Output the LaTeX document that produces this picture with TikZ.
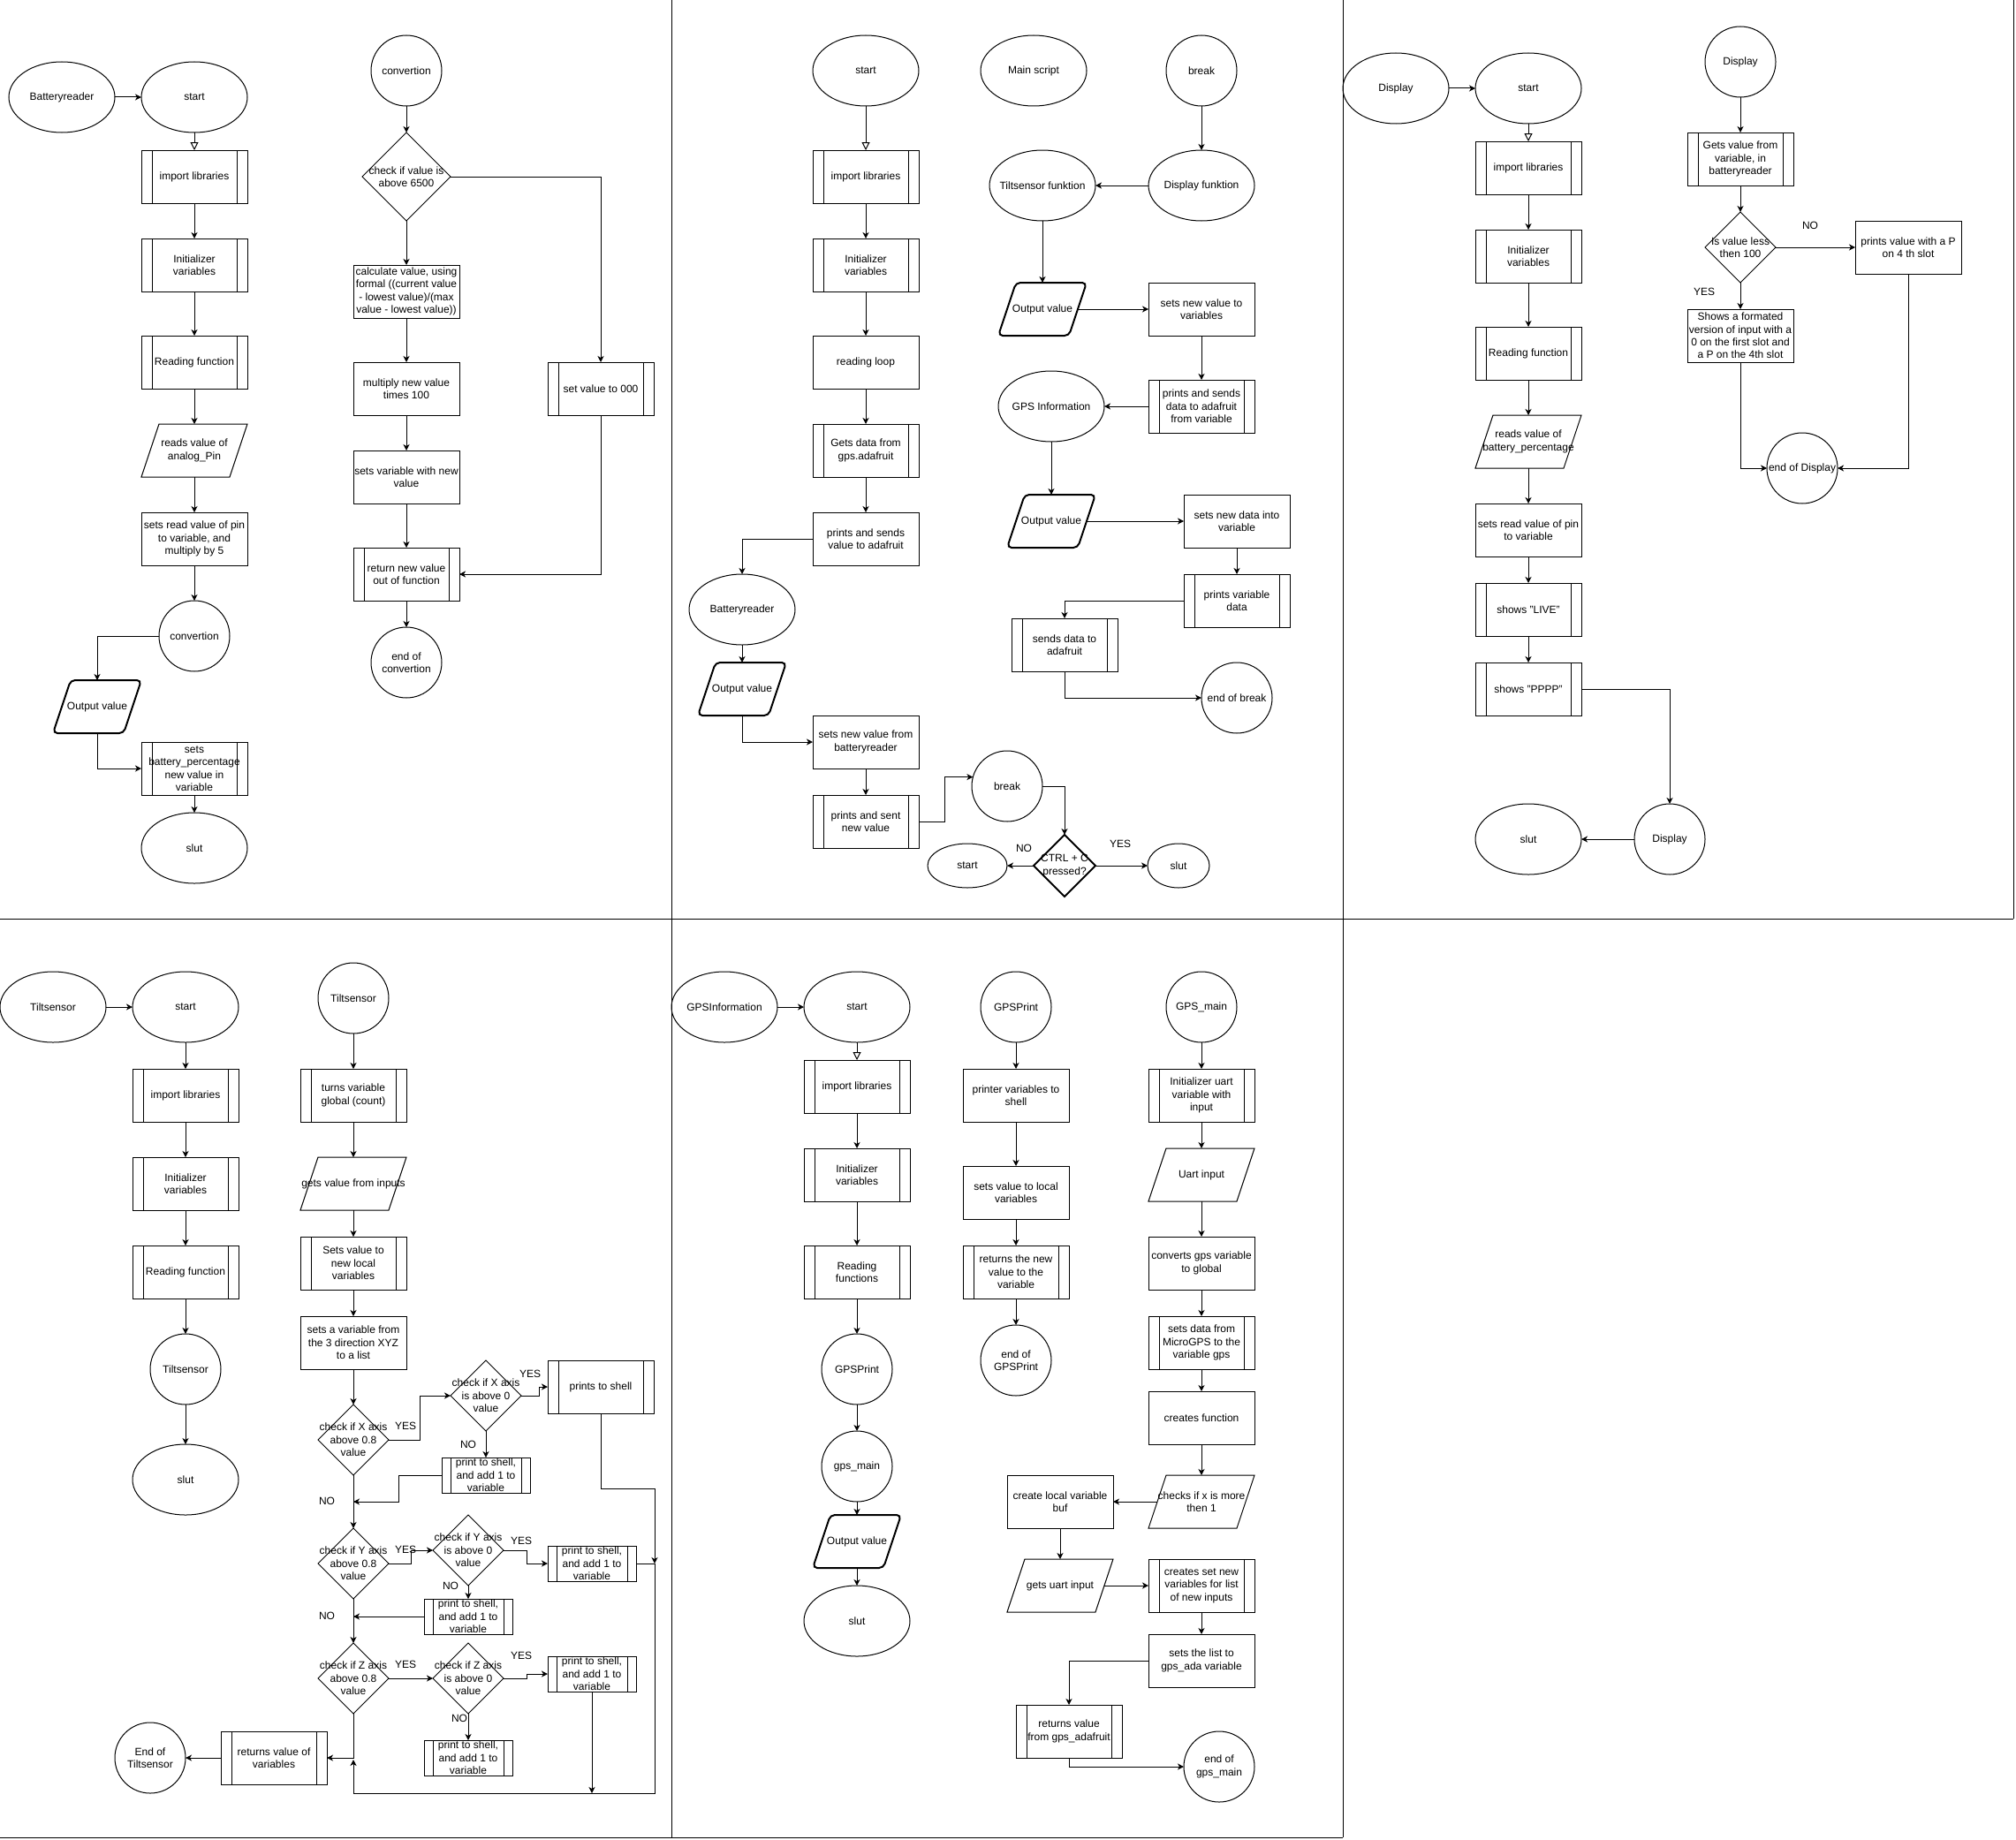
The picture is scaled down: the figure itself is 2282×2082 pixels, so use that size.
\documentclass[tikz,border=0pt]{standalone}
\usepackage{fontspec}
\setmainfont{Liberation Sans}
\usetikzlibrary{shapes.geometric,arrows.meta,calc}
\tikzset{
  base/.style={draw, line width=1pt, inner sep=0pt, outer sep=0pt},
  lbl/.style={font=\fontsize{12}{14.4}\selectfont, align=center, inner sep=0pt, outer sep=0pt},
  txt/.style={label={[lbl]center:{#1}}},
  rbox/.style={base, rectangle, minimum width=120pt, minimum height=60pt},
  pbox/.style={rbox, path picture={\draw[line width=1pt]
     ([xshift=12pt]path picture bounding box.north west) -- ([xshift=12pt]path picture bounding box.south west)
     ([xshift=-12pt]path picture bounding box.north east) -- ([xshift=-12pt]path picture bounding box.south east);}},
  sbox/.style={base, rectangle, minimum width=100pt, minimum height=40pt, path picture={\draw[line width=1pt]
     ([xshift=10pt]path picture bounding box.north west) -- ([xshift=10pt]path picture bounding box.south west)
     ([xshift=-10pt]path picture bounding box.north east) -- ([xshift=-10pt]path picture bounding box.south east);}},
  ell/.style={base, ellipse, minimum width=120pt, minimum height=80pt},
  circ/.style={base, circle, minimum size=80pt},
  dia/.style={base, diamond, minimum width=80pt, minimum height=80pt},
  arr/.style={line width=1pt, -{Stealth[length=7pt,width=7pt,inset=2pt]}},
  harr/.style={line width=1pt, -{Triangle[open,length=9pt,width=9pt]}},
  ln/.style={line width=1pt},
  thk/.style={line width=2pt, rounded corners=5pt},
}
\newcommand\paral[5]{%
  \node[base, draw=none, rectangle, minimum width=#3pt, minimum height=60pt, txt={#5}] (#1) at (#2) {};
  \draw[line width=1pt, #4] ([xshift=20pt]#1.north west) -- (#1.north east) -- ([xshift=-20pt]#1.south east) -- (#1.south west) -- cycle;}
\begin{document}
\begin{tikzpicture}[x=1pt,y=-1pt]
\useasboundingbox[fill=white] (0,0) rectangle (2282,2082);
% panel lines
\draw[ln] (0,1040) -- (2279,1040);
\draw[ln] (760,0) -- (760,2080);
\draw[ln] (1520,0) -- (1520,2080);
\draw[ln] (2279,0) -- (2279,1040);
\draw[ln] (0,2080) -- (1520,2080);

% ================= Panel 1 =================
\node[ell, txt=Batteryreader] (br1) at (70,110) {};
\node[ell, txt=start] (st1) at (220,110) {};
\node[pbox, txt=import libraries] (imp1) at (220,200) {};
\node[pbox, txt={Initializer\\variables}] (ini1) at (220,300) {};
\node[pbox, txt=Reading function] (rd1) at (220,410) {};
\paral{par1}{220,510}{120}{}{reads value of\\analog\_Pin}
\node[rbox, txt={sets read value of pin\\to variable, and\\multiply by 5}] (set1) at (220,610) {};
\node[circ, txt=convertion] (conv1) at (220,720) {};
\paral{out1}{110,800}{100}{thk}{Output value}
\node[pbox, txt={sets\\battery\_percentage\\new value in\\variable}] (bat1) at (220,870) {};
\node[ell, txt=slut] (slut1) at (220,960) {};

\node[circ, txt=convertion] (conv2) at (460,80) {};
\node[dia, minimum width=100pt, minimum height=100pt, txt={check if value is\\above 6500}] (dia1) at (460,200) {};
\node[rbox, txt={calculate value, using\\formal ((current value\\- lowest value)/(max\\value - lowest value))}] (calc) at (460,330) {};
\node[rbox, txt={multiply new value\\times 100}] (mult) at (460,440) {};
\node[rbox, txt={sets variable with new\\value}] (setv) at (460,540) {};
\node[pbox, txt={return new value\\out of function}] (ret1) at (460,650) {};
\node[circ, txt={end of\\convertion}] (endc) at (460,750) {};
\node[pbox, txt=set value to 000] (set0) at (680,440) {};

\draw[arr] (br1) -- (st1);
\draw[harr] (st1) -- (imp1);
\draw[arr] (imp1) -- (ini1);
\draw[arr] (ini1) -- (rd1);
\draw[arr] (rd1) -- (par1);
\draw[arr] (par1) -- (set1);
\draw[arr] (set1) -- (conv1);
\draw[arr] (conv1.west) -| (out1.north);
\draw[arr] (out1.south) |- (bat1.west);
\draw[arr] (bat1) -- (slut1);
\draw[arr] (conv2) -- (dia1);
\draw[arr] (dia1.east) -| (set0.north);
\draw[arr] (dia1) -- (calc);
\draw[arr] (calc) -- (mult);
\draw[arr] (mult) -- (setv);
\draw[arr] (setv) -- (ret1);
\draw[arr] (set0.south) |- (ret1.east);
\draw[arr] (ret1) -- (endc);

% ================= Panel 2 =================
\node[ell, txt=start] (st2) at (980,80) {};
\node[ell, txt=Main script] (ms) at (1170,80) {};
\node[circ, txt=break] (brk1) at (1360,80) {};
\node[pbox, txt=import libraries] (imp2) at (980,200) {};
\node[pbox, txt={Initializer\\variables}] (ini2) at (980,300) {};
\node[rbox, txt=reading loop] (loop2) at (980,410) {};
\node[pbox, txt={Gets data from\\gps.adafruit}] (gd2) at (980,510) {};
\node[rbox, txt={prints and sends\\value to adafruit}] (pas2) at (980,610) {};
\node[ell, txt=Batteryreader] (br2) at (840,690) {};
\paral{out2}{840,780}{100}{thk}{Output value}
\node[rbox, txt={sets new value from\\batteryreader}] (snv) at (980,840) {};
\node[pbox, txt={prints and sent\\new value}] (psn) at (980,930) {};
\node[circ, txt=break] (brk2) at (1140,890) {};
\node[dia, minimum width=70pt, minimum height=70pt, line width=2pt, txt={CTRL + C\\pressed?}] (ctrl) at (1205,980) {};
\node[ell, minimum width=90pt, minimum height=50pt, txt=start] (st2b) at (1095,980) {};
\node[ell, minimum width=70pt, minimum height=50pt, txt=slut] (slut2) at (1334,980) {};
\node[lbl] (no2) at (1159,960) {NO};
\node[lbl] (yes2) at (1268,955) {YES};

\node[ell, txt=Display funktion] (dispf) at (1360,210) {};
\node[ell, txt=Tiltsensor funktion] (tiltf) at (1180,210) {};
\paral{out3}{1180,350}{100}{thk}{Output value}
\node[rbox, txt={sets new value to\\variables}] (snv2) at (1360,350) {};
\node[pbox, txt={prints and sends\\data to adafruit\\from variable}] (pasd) at (1360,460) {};
\node[ell, txt=GPS Information] (gpsi) at (1190,460) {};
\paral{out4}{1190,590}{100}{thk}{Output value}
\node[rbox, txt={sets new data into\\variable}] (sndi) at (1400,590) {};
\node[pbox, txt={prints variable\\data}] (pvd) at (1400,680) {};
\node[pbox, txt={sends data to\\adafruit}] (sda) at (1205,730) {};
\node[circ, txt=end of break] (eob) at (1400,790) {};

\draw[harr] (st2) -- (imp2);
\draw[arr] (imp2) -- (ini2);
\draw[arr] (ini2) -- (loop2);
\draw[arr] (loop2) -- (gd2);
\draw[arr] (gd2) -- (pas2);
\draw[arr] (pas2.west) -| (br2.north);
\draw[arr] (br2) -- (out2);
\draw[arr] (out2.south) |- (snv.west);
\draw[arr] (snv) -- (psn);
\draw[arr] (psn.east) -- ++(29,0) |- (brk2.165.5);
\draw[arr] (brk2.east) -| (ctrl.north);
\draw[arr] (ctrl.west) -- (st2b.east);
\draw[arr] (ctrl.east) -- (slut2.west);
\draw[arr] (brk1) -- (dispf);
\draw[arr] (dispf) -- (tiltf);
\draw[arr] (tiltf) -- (out3);
\draw[arr] ([xshift=-10pt]out3.east) -- (snv2.west);
\draw[arr] (snv2) -- (pasd);
\draw[arr] (pasd) -- (gpsi);
\draw[arr] (gpsi) -- (out4);
\draw[arr] ([xshift=-10pt]out4.east) -- (sndi.west);
\draw[arr] (sndi) -- (pvd);
\draw[arr] (pvd.west) -| (sda.north);
\draw[arr] (sda.south) |- (eob.west);

% ================= Panel 3 =================
\node[ell, txt=Display] (disp1) at (1580,100) {};
\node[ell, txt=start] (st3) at (1730,100) {};
\node[pbox, txt=import libraries] (imp3) at (1730,190) {};
\node[pbox, txt={Initializer\\variables}] (ini3) at (1730,290) {};
\node[pbox, txt=Reading function] (rd3) at (1730,400) {};
\paral{par3}{1730,500}{120}{}{reads value of\\battery\_percentage}
\node[rbox, txt={sets read value of pin\\to variable}] (srv3) at (1730,600) {};
\node[pbox, txt={shows "LIVE"}] (live) at (1730,690) {};
\node[pbox, txt={shows "PPPP"}] (pppp) at (1730,780) {};
\node[circ, txt=Display] (disp2) at (1890,950) {};
\node[ell, txt=slut] (slut3) at (1730,950) {};
\node[circ, txt=Display] (disp3) at (1970,70) {};
\node[pbox, txt={Gets value from\\variable, in\\batteryreader}] (gv) at (1970,180) {};
\node[dia, txt={Is value less\\then 100}] (dia3) at (1970,280) {};
\node[rbox, txt={prints value with a P\\on 4 th slot}] (pv) at (2160,280) {};
\node[rbox, txt={Shows a formated\\version of input with a\\0 on the first slot and\\a P on the 4th slot}] (fmt) at (1970,380) {};
\node[circ, txt=end of Display] (eod) at (2040,530) {};
\node[lbl] (no3) at (2049,255) {NO};
\node[lbl] (yes3) at (1929,330) {YES};

\draw[arr] (disp1) -- (st3);
\draw[harr] (st3) -- (imp3);
\draw[arr] (imp3) -- (ini3);
\draw[arr] (ini3) -- (rd3);
\draw[arr] (rd3) -- (par3);
\draw[arr] (par3) -- (srv3);
\draw[arr] (srv3) -- (live);
\draw[arr] (live) -- (pppp);
\draw[arr] (pppp.east) -| (disp2.north);
\draw[arr] (disp2) -- (slut3);
\draw[arr] (disp3) -- (gv);
\draw[arr] (gv) -- (dia3);
\draw[arr] (dia3) -- (pv);
\draw[arr] (dia3) -- (fmt);
\draw[arr] (fmt.south) |- (eod.west);
\draw[arr] (pv.south) |- (eod.east);

% ================= Panel 4 =================
\node[ell, txt=Tiltsensor] (ts1) at (60,1140) {};
\node[ell, txt=start] (st4) at (210,1140) {};
\node[pbox, txt=import libraries] (imp4) at (210,1240) {};
\node[pbox, txt={Initializer\\variables}] (ini4) at (210,1340) {};
\node[pbox, txt=Reading function] (rd4) at (210,1440) {};
\node[circ, txt=Tiltsensor] (ts2) at (210,1550) {};
\node[ell, txt=slut] (slut4) at (210,1675) {};
\node[circ, txt=Tiltsensor] (ts3) at (400,1130) {};
\node[pbox, txt={turns variable\\global (count)}] (turn) at (400,1240) {};
\paral{gvi}{400,1340}{120}{}{gets value from inputs}
\node[pbox, txt={Sets value to\\new local\\variables}] (svl) at (400,1430) {};
\node[rbox, txt={sets a variable from\\the 3 direction XYZ\\to a list}] (sav) at (400,1520) {};
\node[dia, txt={check if X axis\\above 0.8\\value}] (dx8) at (400,1630) {};
\node[dia, txt={check if X axis\\is above 0\\value}] (dx0) at (550,1580) {};
\node[pbox, txt=prints to shell] (pts) at (680,1570) {};
\node[sbox, txt={print to shell,\\and add 1 to\\variable}] (px) at (550,1670) {};
\node[dia, txt={check if Y axis\\above 0.8\\value}] (dy8) at (400,1770) {};
\node[dia, txt={check if Y axis\\is above 0\\value}] (dy0) at (530,1755) {};
\node[sbox, txt={print to shell,\\and add 1 to\\variable}] (py) at (670,1770) {};
\node[sbox, txt={print to shell,\\and add 1 to\\variable}] (pyn) at (530,1830) {};
\node[dia, txt={check if Z axis\\above 0.8\\value}] (dz8) at (400,1900) {};
\node[dia, txt={check if Z axis\\is above 0\\value}] (dz0) at (530,1900) {};
\node[sbox, txt={print to shell,\\and add 1 to\\variable}] (pz) at (670,1895) {};
\node[sbox, txt={print to shell,\\and add 1 to\\variable}] (pzn) at (530,1990) {};
\node[pbox, txt={returns value of\\variables}] (ret4) at (310,1990) {};
\node[circ, txt={End of\\Tiltsensor}] (ets) at (170,1990) {};
\coordinate (jx) at (400,1700);
\coordinate (jy) at (400,1830);
\coordinate (jr) at (741,1770);
\coordinate (cbr) at (741,2030);
\coordinate (cbl) at (400,2030);
\coordinate (jret) at (400,1992);

\node[lbl] (l1) at (459,1614) {YES};
\node[lbl] (l2) at (600,1555) {YES};
\node[lbl] (l3) at (530,1635) {NO};
\node[lbl] (l4) at (370,1699) {NO};
\node[lbl] (l5) at (459,1754) {YES};
\node[lbl] (l6) at (590,1744) {YES};
\node[lbl] (l7) at (510,1795) {NO};
\node[lbl] (l8) at (370,1829) {NO};
\node[lbl] (l9) at (459,1884) {YES};
\node[lbl] (l10) at (590,1874) {YES};
\node[lbl] (l11) at (520,1945) {NO};

\draw[arr] (ts1) -- (st4);
\draw[arr] (st4) -- (imp4);
\draw[arr] (imp4) -- (ini4);
\draw[arr] (ini4) -- (rd4);
\draw[arr] (rd4) -- (ts2);
\draw[arr] (ts2) -- (slut4);
\draw[arr] (ts3) -- (turn);
\draw[arr] (turn) -- (gvi);
\draw[arr] (gvi) -- (svl);
\draw[arr] (svl) -- (sav);
\draw[arr] (sav) -- (dx8);
\draw[arr] (dx8.east) -- ++(35,0) |- (dx0.west);
\draw[arr] (dx0.east) -- ++(20,0) |- (pts.west);
\draw[arr] (dx0) -- (px);
\draw[arr] (px.west) -- ++(-49,0) |- (jx);
\draw[arr] (dx8) -- (dy8);
\draw[arr] (dy8.east) -- ++(25,0) |- (dy0.west);
\draw[arr] (dy0.east) -- ++(26,0) |- (py.west);
\draw[arr] (dy0) -- (pyn);
\draw[arr] (pyn.west) -- (jy);
\draw[arr] (dy8) -- (dz8);
\draw[arr] (dz8) -- (dz0);
\draw[arr] (dz0.east) -- ++(26,0) |- (pz.west);
\draw[arr] (dz0) -- (pzn);
\draw[arr] (dz8.south) |- (ret4.east);
\draw[arr] (ret4) -- (ets);
\draw[arr] (pts.south) -- ++(0,85) -| (jr);
\draw[ln] (py.east) -- (jr);
\draw[arr] (jr) -- (cbr) -- (cbl) -- (jret);
\draw[arr] (pz.south) -- (pz.south |- cbr);

% ================= Panel 5 =================
\node[ell, txt=GPSInformation] (gpsinf) at (820,1140) {};
\node[ell, txt=start] (st5) at (970,1140) {};
\node[pbox, txt=import libraries] (imp5) at (970,1230) {};
\node[pbox, txt={Initializer\\variables}] (ini5) at (970,1330) {};
\node[pbox, txt={Reading\\functions}] (rdf5) at (970,1440) {};
\node[circ, txt=GPSPrint] (gpr5) at (970,1550) {};
\node[circ, txt=gps\_main] (gm5) at (970,1660) {};
\paral{out5}{970,1745}{100}{thk}{Output value}
\node[ell, txt=slut] (slut5) at (970,1835) {};
\node[circ, txt=GPSPrint] (gpp) at (1150,1140) {};
\node[rbox, txt={printer variables to\\shell}] (pvs) at (1150,1240) {};
\node[rbox, txt={sets value to local\\variables}] (svl5) at (1150,1350) {};
\node[pbox, txt={returns the new\\value to the\\variable}] (rnv) at (1150,1440) {};
\node[circ, txt={end of\\GPSPrint}] (eogp) at (1150,1540) {};
\node[circ, txt=GPS\_main] (gmain) at (1360,1140) {};
\node[pbox, txt={Initializer uart\\variable with\\input}] (iu) at (1360,1240) {};
\paral{uart}{1360,1330}{120}{}{Uart input}
\node[rbox, txt={converts gps variable\\to global}] (cgv) at (1360,1430) {};
\node[pbox, txt={sets data from\\MicroGPS to the\\variable gps}] (sdm) at (1360,1520) {};
\node[rbox, txt=creates function] (cf) at (1360,1605) {};
\paral{chk}{1360,1700}{120}{}{checks if x is more\\then 1}
\node[rbox, txt={create local variable\\buf}] (clb) at (1200,1700) {};
\paral{gui}{1200,1795}{120}{}{gets uart input}
\node[pbox, txt={creates set new\\variables for list\\of new inputs}] (csn) at (1360,1795) {};
\node[rbox, txt={sets the list to\\gps\_ada variable}] (stl) at (1360,1880) {};
\node[pbox, txt={returns value\\from gps\_adafruit}] (rvg) at (1210,1960) {};
\node[circ, txt={end of\\gps\_main}] (eogm) at (1380,2000) {};

\draw[arr] (gpsinf) -- (st5);
\draw[harr] (st5) -- (imp5);
\draw[arr] (imp5) -- (ini5);
\draw[arr] (ini5) -- (rdf5);
\draw[arr] (rdf5) -- (gpr5);
\draw[arr] (gpr5) -- (gm5);
\draw[arr] (gm5) -- (out5);
\draw[arr] (out5) -- (slut5);
\draw[arr] (gpp) -- (pvs);
\draw[arr] (pvs) -- (svl5);
\draw[arr] (svl5) -- (rnv);
\draw[arr] (rnv) -- (eogp);
\draw[arr] (gmain) -- (iu);
\draw[arr] (iu) -- (uart);
\draw[arr] (uart) -- (cgv);
\draw[arr] (cgv) -- (sdm);
\draw[arr] (sdm) -- (cf);
\draw[arr] (cf) -- (chk);
\draw[arr] ([xshift=10pt]chk.west) -- (clb.east);
\draw[arr] (clb) -- (gui);
\draw[arr] ([xshift=-10pt]gui.east) -- (csn.west);
\draw[arr] (csn) -- (stl);
\draw[arr] (stl.west) -| (rvg.north);
\draw[arr] (rvg.south) |- (eogm.west);
\end{tikzpicture}
\end{document}
